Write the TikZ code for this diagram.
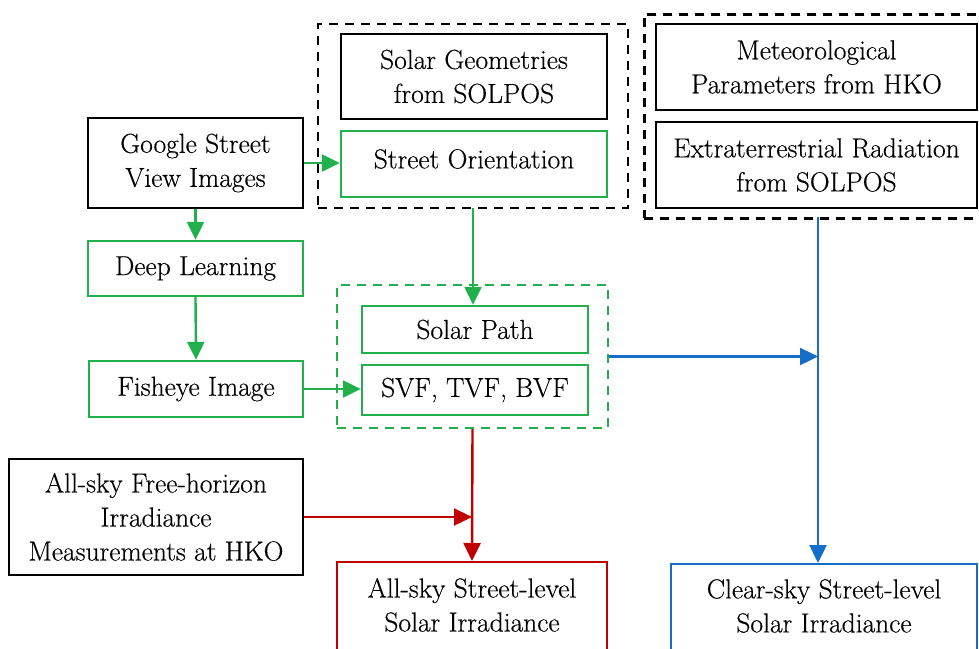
\documentclass[tikz,border=0pt]{standalone}
\usepackage{fontspec}
\newfontfamily\boxfont{Latin Modern Roman}[FakeBold=0.35]
\usetikzlibrary{arrows.meta}
\definecolor{flowgreen}{RGB}{34,176,76}
\definecolor{flowred}{RGB}{192,0,0}
\definecolor{flowblue}{RGB}{20,110,200}
\tikzset{
  x=1pt, y=-1pt,
  base/.style={inner sep=0pt, align=center, font=\boxfont\fontsize{27.5}{34}\selectfont},
  blackbox/.style={base, draw=black, line width=2.8pt},
  greenbox/.style={base, draw=flowgreen, line width=2.4pt},
  redbox/.style={base, draw=flowred, line width=2.4pt},
  bluebox/.style={base, draw=flowblue, line width=2.4pt},
  groupbox/.style={inner sep=0pt, line width=2.8pt, dash pattern=on 9pt off 7pt},
  txt/.style={base},
  tip/.style={-{Triangle[length=18pt,width=17pt]}},
  gline/.style={draw=flowgreen, line width=2.4pt, tip},
  rline/.style={draw=flowred, line width=2.4pt},
  bline/.style={draw=flowblue, line width=2.4pt},
}
\begin{document}
\begin{tikzpicture}
\path[use as bounding box, clip] (0,0) rectangle (979,648);

% dashed group frames
\node[groupbox, draw=black, minimum width=310, minimum height=184] (topgroup) at (473,116) {};
\node[groupbox, draw=black, minimum width=360, minimum height=204, anchor=north west] (rightgroup) at (643,13) {};
\node[groupbox, draw=flowgreen, line width=2.4pt, minimum width=271, minimum height=143] (viewgroup) at (472.5,356.5) {};

% input and processing boxes
\node[blackbox, minimum width=215, minimum height=90] (gsv) at (195.5,163) {Google Street\\View Images};
\node[blackbox, minimum width=266, minimum height=85] (solgeo) at (474,76.5) {Solar Geometries\\from SOLPOS};
\node[greenbox, minimum width=266, minimum height=66] (orient) at (474,164) {};
\node[txt] (orienttxt) at (474,159) {Street Orientation};
\node[blackbox, minimum width=321, minimum height=86] (meteo) at (816.5,67) {Meteorological\\Parameters from HKO};
\node[blackbox, minimum width=321, minimum height=86] (extra) at (816.5,165) {Extraterrestrial Radiation\\from SOLPOS};
\node[greenbox, minimum width=215, minimum height=55] (deep) at (195.5,268.5) {Deep Learning};
\node[greenbox, minimum width=214, minimum height=56] (fisheye) at (196,389) {Fisheye Image};
\node[greenbox, minimum width=226, minimum height=47] (path) at (475,329.5) {Solar Path};
\node[greenbox, minimum width=226, minimum height=50] (svf) at (475,390) {SVF, TVF, BVF};
\node[blackbox, minimum width=294, minimum height=116] (meas) at (156,517) {All-sky Free-horizon\\Irradiance\\Measurements at HKO};

% output boxes
\node[redbox, minimum width=270, minimum height=110, anchor=north] (allsky) at (472,561) {};
\node[txt] (allskytxt) at (472,605) {All-sky Street-level\\Solar Irradiance};
\node[bluebox, minimum width=306, minimum height=110, anchor=north] (clear) at (824,563) {};
\node[txt] (cleartxt) at (824,606) {Clear-sky Street-level\\Solar Irradiance};

% green connectors
\draw[gline] (gsv.east) -- (gsv.east -| orient.west);
\draw[gline] (gsv.south) -- (deep.north);
\draw[gline] (deep.south) -- (fisheye.north);
\draw[gline] (fisheye.east) -- (fisheye.east -| svf.west);
\coordinate (orientout) at (473,208);
\draw[gline] (orientout) -- (orientout |- path.north);

% blue connectors
\coordinate (bluetop) at (818,217);
\draw[bline] (bluetop) -- (bluetop |- viewgroup.east);
\draw[bline, tip] (bluetop |- viewgroup.east) -- (bluetop |- clear.north);
\draw[bline, tip] (viewgroup.east) -- (viewgroup.east -| bluetop);

% red connectors
\draw[rline, tip] (viewgroup.south) -- (allsky.north);
\draw[rline, tip] (meas.east) -- (meas.east -| allsky.north);
\end{tikzpicture}
\end{document}
